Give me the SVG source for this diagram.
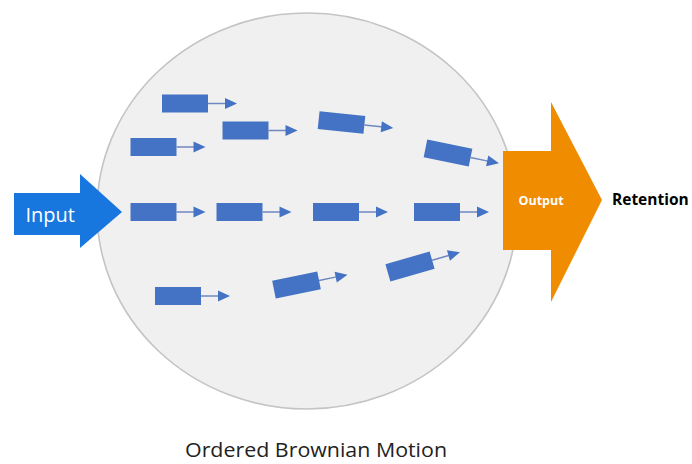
<svg xmlns="http://www.w3.org/2000/svg" width="692" height="464" viewBox="0 0 692 464">
  <style>
    .mol rect { fill: #4472c4; }
    .mol line { stroke: #6f88c2; stroke-width: 1.5; }
    .mol polygon { fill: #4472c4; }
    .label { font-family: "Open Sans", "DejaVu Sans", sans-serif; }
  </style>
  <defs>
    <!-- one particle: body plus its velocity arrow, centred on the body -->
    <g id="particle" class="mol">
      <rect x="-23" y="-9" width="46" height="18"/>
      <line x1="23" y1="0" x2="42" y2="0"/>
      <polygon points="40,-5.5 52,0 40,5.5"/>
    </g>
  </defs>
  <rect width="692" height="464" fill="#ffffff"/>

  <!-- container -->
  <g id="container">
    <ellipse cx="307" cy="211" rx="210" ry="198" fill="#f0f0f0" stroke="#c4c4c4" stroke-width="1.6"/>
  </g>

  <!-- particles -->
  <g id="connectors">
    <use href="#particle" x="185" y="103.5"/>
    <use href="#particle" x="245.5" y="130.5"/>
    <use href="#particle" x="153.5" y="147"/>
    <use href="#particle" transform="translate(341.5 122.5) rotate(6)"/>
    <use href="#particle" transform="translate(448 153) rotate(11.5)"/>
    <use href="#particle" x="153.5" y="212"/>
    <use href="#particle" x="239.5" y="212"/>
    <use href="#particle" x="336" y="212"/>
    <use href="#particle" x="437" y="212"/>
    <use href="#particle" x="178" y="296"/>
    <use href="#particle" transform="translate(296.5 285) rotate(-11.5)"/>
    <use href="#particle" transform="translate(410 266.5) rotate(-16)"/>
  </g>

  <!-- input arrow -->
  <g id="input">
    <polygon points="14,193 80,193 80,174 122,212 80,248 80,235 14,235" fill="#1777de"/>
    <text class="label" x="25.5" y="222" font-size="20" fill="#ffffff">Input</text>
  </g>

  <!-- output arrow -->
  <g id="output">
    <polygon points="503,151 551,151 551,102 602,200 551,302 551,250 503,250" fill="#ef8c00"/>
    <text class="label" x="518.5" y="205" font-size="12.5" font-weight="bold" fill="#ffffff">Output</text>
  </g>

  <g id="retention">
    <text class="label" x="612" y="205" font-size="15.5" font-weight="bold" fill="#000000">Retention</text>
  </g>

  <g id="caption">
    <text class="label" x="185" y="457" font-size="20" fill="#222222" textLength="262" lengthAdjust="spacingAndGlyphs">Ordered Brownian Motion</text>
  </g>
</svg>
